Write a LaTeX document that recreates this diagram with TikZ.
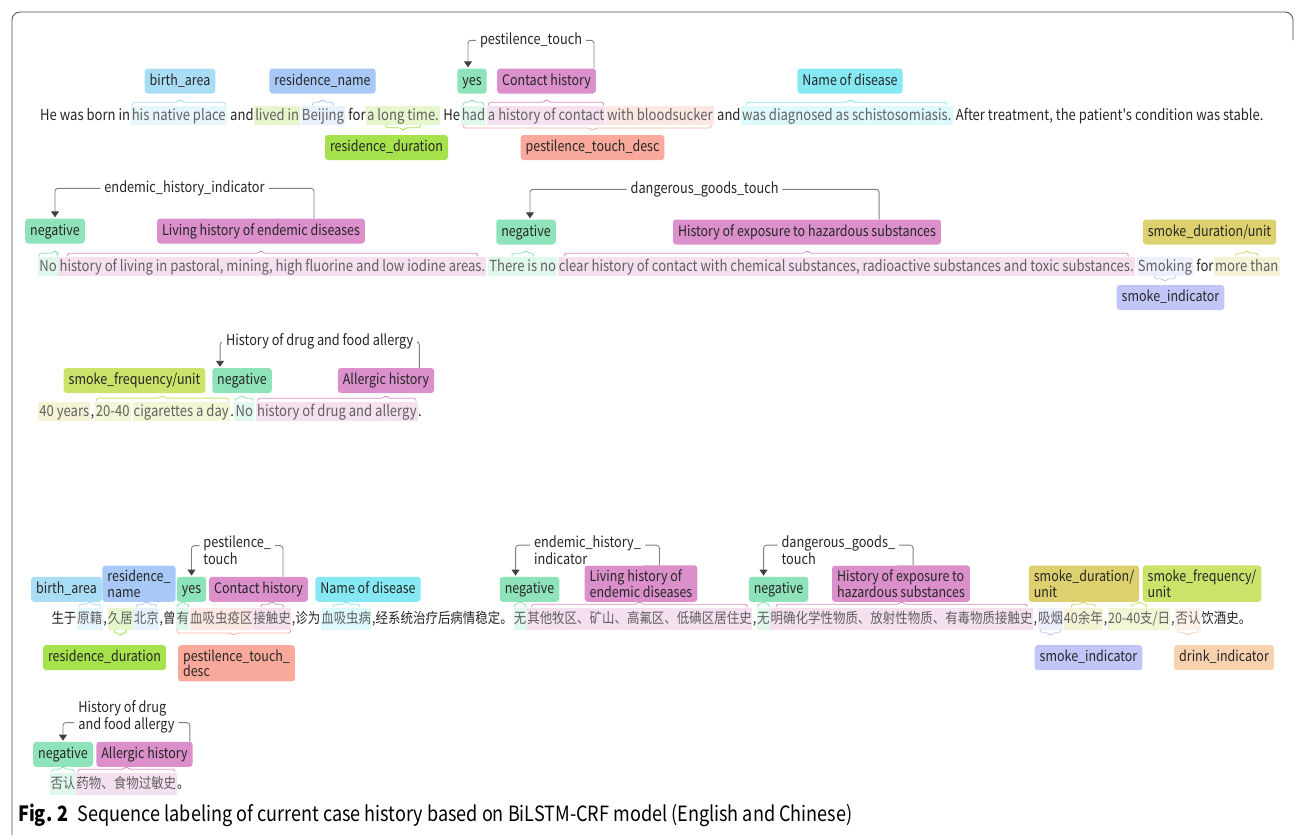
\documentclass[tikz,border=0pt]{standalone}
\usepackage{fontspec}
\setmainfont{Noto Sans CJK SC}[FakeStretch=0.86, Ligatures=TeXOff]
\usetikzlibrary{arrows.meta, positioning, fit}

\definecolor{cBirth}{HTML}{A9DDF5}
\definecolor{cRname}{HTML}{A8C8F8}
\definecolor{cYes}{HTML}{8FE3BA}
\definecolor{cCont}{HTML}{DB8FCB}
\definecolor{cDis}{HTML}{85E9F3}
\definecolor{cRdur}{HTML}{A6E24C}
\definecolor{cPdesc}{HTML}{F8A99B}
\definecolor{cSdur}{HTML}{DDD06E}
\definecolor{cSfreq}{HTML}{CBE26B}
\definecolor{cSmk}{HTML}{C2C5F8}
\definecolor{cDrk}{HTML}{F8D2AE}

\begin{document}
\begin{tikzpicture}[
    x=1pt, y=-1pt,
    every node/.style={font=\fontsize{14.5}{16}\selectfont},
    seg/.style={anchor=base west, inner xsep=0pt, inner ysep=1.5pt,
      text height=13pt, text depth=3pt, text=black!85,
      font=\fontsize{15.2}{17}\selectfont},
    hl/.style={seg, fill=#1!28, text=black!62, inner xsep=1.2pt},
    zh/.style={text height=14pt, text depth=5pt, inner xsep=0.3pt,
      font=\fontsize{14.5}{16}\selectfont},
    tagb/.style={fill=#1, rounded corners=3pt, inner xsep=5pt,
      inner ysep=4.5pt, text=black!85},
    tag/.style={tagb=#1, text height=12pt, text depth=4pt},
    tag2/.style={tagb=#1, align=left, font=\fontsize{14.5}{15.5}\selectfont},
    rel/.style={draw=black!50, line width=0.9pt, rounded corners=3pt,
      shorten >=1pt, -{Triangle[width=8pt, length=6pt, color=black!75]}},
    rlbl/.style={fill=white, inner xsep=4pt, inner ysep=1pt, text=black!85,
      font=\fontsize{14.8}{16}\selectfont},
    rlbl2/.style={rlbl, align=left, font=\fontsize{14.8}{17}\selectfont},
    brc/.style={line width=0.8pt, rounded corners=1.5pt},
    % braces: tick under the label / tick at the span centre
    bru/.style={brc, to path={([xshift=#1]\tikztostart.north west) -- ++(0pt,3pt)
      -- ([xshift=-3pt, yshift=3pt]\tikztotarget |- \tikztostart.north)
      -- ++(3pt,3pt) -- ++(3pt,-3pt)
      -- ([xshift=-#1, yshift=3pt]\tikztostart.north east) -- ++(0pt,-3pt)}},
    bruc/.style={brc, to path={([xshift=#1]\tikztostart.north west) -- ++(0pt,3pt)
      -- ([xshift=-3pt, yshift=3pt]\tikztostart.north)
      -- ++(3pt,3pt) -- ++(3pt,-3pt)
      -- ([xshift=-#1, yshift=3pt]\tikztostart.north east) -- ++(0pt,-3pt)}},
    brd/.style={brc, to path={([xshift=#1]\tikztostart.south west) -- ++(0pt,-3pt)
      -- ([xshift=-3pt, yshift=-3pt]\tikztotarget |- \tikztostart.south)
      -- ++(3pt,-3pt) -- ++(3pt,3pt)
      -- ([xshift=-#1, yshift=-3pt]\tikztostart.south east) -- ++(0pt,3pt)}},
    brdc/.style={brc, to path={([xshift=#1]\tikztostart.south west) -- ++(0pt,-3pt)
      -- ([xshift=-3pt, yshift=-3pt]\tikztostart.south)
      -- ++(3pt,-3pt) -- ++(3pt,3pt)
      -- ([xshift=-#1, yshift=-3pt]\tikztostart.south east) -- ++(0pt,3pt)}},
    frame/.style={draw=black!70, line width=0.8pt, rounded corners=8pt},
  ]
    \useasboundingbox (0,0) rectangle (1295,835);
    \draw[frame] (12,835) |- (1293,12) -- (1293,40);

    % ═══ English, line 1 ═══
    \node[seg] (a1) at (40,120) {He was born in\ };
    \node[hl=cBirth, base right=0pt of a1] (a2) {his native place};
    \node[seg, base right=0pt of a2] (a3) {\ and\ };
    \node[hl=cRdur, base right=0pt of a3] (a4) {lived in};
    \node[hl=cRname, base right=0pt of a4] (a5) {Beijing};
    \node[seg, base right=0pt of a5] (a6) {\ for\ };
    \node[hl=cRdur, base right=0pt of a6] (a7) {a long time.};
    \node[seg, base right=0pt of a7] (a8) {\ He\ };
    \node[hl=cYes, base right=0pt of a8] (a9) {had};
    \node[hl=cCont, base right=0pt of a9] (a10) {a history of contact};
    \node[hl=cPdesc, base right=0pt of a10] (a11) {with bloodsucker};
    \node[seg, base right=0pt of a11] (a12) {\ and\ };
    \node[hl=cDis, base right=0pt of a12] (a13) {was diagnosed as schistosomiasis.};
    \node[seg, base right=0pt of a13] (a14) {\ After treatment, the patient's condition was stable.};

    \node[tag=cBirth] (ba1) at (180,81) {birth\_area};
    \node[tag=cRname] (rn1) at (322.5,81) {residence\_name};
    \node[tag=cYes] (ys1) at (472,81) {yes};
    \node[tag=cCont] (ct1) at (546.5,81) {Contact history};
    \node[tag=cDis] (nd1) at (850,81) {Name of disease};
    \node[tag=cRdur] (rd1) at (386.5,147.5) {residence\_duration};
    \node[tag=cPdesc] (pd1) at (592.5,147.5) {pestilence\_touch\_desc};
    \node[fit=(a9)(a11), inner sep=0pt] (f1) {};

    \draw[bru=2pt, cBirth] (a2) to (ba1);
    \draw[bru=12pt, cRname] (a5) to (rn1);
    \draw[bru=3pt, cYes] (a9) to (ys1);
    \draw[bru=2pt, cCont] (a10) to (ct1);
    \draw[bru=6pt, cDis] (a13) to (nd1);
    \draw[brdc=20pt, cRdur] (a7) to (rd1);
    \draw[brd=3pt, cPdesc] (f1) to (pd1);
    \draw[rel] ([xshift=-2pt]ct1.north east) -- ++(0pt,28pt)
      -| node[rlbl, pos=0.25] {pestilence\_touch} ([xshift=-4pt]ys1.north);

    % ═══ English, line 2 ═══
    \node[hl=cYes] (b1) at (38,271) {No};
    \node[hl=cCont, base right=0pt of b1] (b2) {history of living in pastoral, mining, high fluorine and low iodine areas.};
    \node[seg, base right=0pt of b2] (b3) {\ };
    \node[hl=cYes, base right=0pt of b3] (b4) {There is no};
    \node[hl=cCont, base right=0pt of b4] (b5) {clear history of contact with chemical substances, radioactive substances and toxic substances.};
    \node[seg, base right=0pt of b5] (b6) {\ };
    \node[hl=cSmk, base right=0pt of b6] (b7) {Smoking};
    \node[seg, base right=0pt of b7] (b8) {\ for\ };
    \node[hl=cSdur, base right=0pt of b8] (b9) {more than};

    \node[tag=cYes] (n1) at (55,231) {negative};
    \node[tag=cCont] (lh1) at (261,231) {Living history of endemic diseases};
    \node[tag=cYes] (n2) at (526,232) {negative};
    \node[tag=cCont] (he1) at (807,232) {History of exposure to hazardous substances};
    \node[tag=cSdur] (sd1) at (1209.5,232) {smoke\_duration/unit};
    \node[tag=cSmk] (si1) at (1170.5,297.5) {smoke\_indicator};

    \draw[bru=1pt, cYes] (b1) to (n1);
    \draw[bru=9pt, cCont] (b2) to (lh1);
    \draw[bru=24pt, cYes] (b4) to (n2);
    \draw[bru=7pt, cCont] (b5) to (he1);
    \draw[bruc=22pt, cSdur] (b9) to (sd1);
    \draw[brdc=18pt, cSmk] (b7) to (si1);
    \draw[rel] ([xshift=-51pt]lh1.north east) -- ++(0pt,30pt)
      -| node[rlbl, pos=0.25] {endemic\_history\_indicator} (n1.north);
    \draw[rel] ([xshift=-62pt]he1.north east) -- ++(0pt,30pt)
      -| node[rlbl, pos=0.25] {dangerous\_goods\_touch} ([xshift=4pt]n2.north);

    % ═══ English, line 3 ═══
    \node[hl=cSdur] (c1) at (38,416) {40 years};
    \node[seg, base right=0pt of c1] (c2) {,\ };
    \node[hl=cSfreq, base right=0pt of c2] (c3) {20-40};
    \node[seg, base right=0pt of c3] (c4) {\ };
    \node[hl=cSfreq, base right=0pt of c4] (c5) {cigarettes a day};
    \node[seg, base right=0pt of c5] (c6) {.\ };
    \node[hl=cYes, base right=0pt of c6] (c7) {No};
    \node[seg, base right=0pt of c7] (c8) {\ };
    \node[hl=cCont, base right=0pt of c8] (c9) {history of drug and allergy};
    \node[seg, base right=0pt of c9] (c10) {.};

    \node[tag=cSfreq] (sf1) at (134.5,380.5) {smoke\_frequency/unit};
    \node[tag=cYes] (n3) at (242,380.5) {negative};
    \node[tag=cCont] (ah1) at (386,380.5) {Allergic history};
    \node[fit=(c3)(c5), inner sep=0pt] (f3) {};

    \draw[bruc=2pt, cSfreq] (f3) to (sf1);
    \draw[bru=1pt, cYes] (c7) to (n3);
    \draw[bru=2pt, cCont] (c9) to (ah1);
    \draw[rel] ([xshift=-15pt]ah1.north east) -- ++(0pt,26pt)
      -| node[rlbl, pos=0.25] {History of drug and food allergy} ([xshift=8pt]n3.north west);

    % ═══ Chinese, line 1 ═══
    \node[seg, zh] (d1) at (51,623) {生于};
    \node[hl=cBirth, zh, base right=0pt of d1] (d2) {原籍};
    \node[seg, zh, base right=0pt of d2] (d3) {,};
    \node[hl=cRdur, zh, base right=0pt of d3] (d4) {久居};
    \node[hl=cRname, zh, base right=0pt of d4] (d5) {北京};
    \node[seg, zh, base right=0pt of d5] (d6) {,曾};
    \node[hl=cYes, zh, base right=0pt of d6] (d7) {有};
    \node[hl=cPdesc, zh, base right=0pt of d7] (d8) {血吸虫疫区};
    \node[hl=cCont, zh, base right=0pt of d8] (d9) {接触史};
    \node[seg, zh, base right=0pt of d9] (d10) {,诊为};
    \node[hl=cDis, zh, base right=0pt of d10] (d11) {血吸虫病};
    \node[seg, zh, base right=0pt of d11] (d12) {,经系统治疗后病情稳定。};
    \node[hl=cYes, zh, base right=0pt of d12] (d13) {无};
    \node[hl=cCont, zh, base right=0pt of d13] (d14) {其他牧区、矿山、高氟区、低碘区居住史};
    \node[seg, zh, base right=0pt of d14] (d15) {,};
    \node[hl=cYes, zh, base right=0pt of d15] (d16) {无};
    \node[hl=cCont, zh, base right=0pt of d16] (d17) {明确化学性物质、放射性物质、有毒物质接触史};
    \node[seg, zh, base right=0pt of d17] (d18) {,};
    \node[hl=cSmk, zh, base right=0pt of d18] (d19) {吸烟};
    \node[hl=cSdur, zh, base right=0pt of d19] (d20) {40余年};
    \node[seg, zh, base right=0pt of d20] (d21) {,};
    \node[hl=cSfreq, zh, base right=0pt of d21] (d22) {20-40支/日};
    \node[seg, zh, base right=0pt of d22] (d23) {,};
    \node[hl=cDrk, zh, base right=0pt of d23] (d24) {否认};
    \node[seg, zh, base right=0pt of d24] (d25) {饮酒史。};

    \node[tag=cBirth, anchor=south] (ba4) at (66.5,602) {birth\_area};
    \node[tag2=cRname, anchor=south] (rn4) at (139,602) {residence\_\\name};
    \node[tag=cYes, anchor=south] (ys4) at (191.5,602) {yes};
    \node[tag=cCont, anchor=south] (ct4) at (258.5,602) {Contact history};
    \node[tag=cDis, anchor=south] (nd4) at (368,602) {Name of disease};
    \node[tag=cYes, anchor=south] (n4) at (529.5,602) {negative};
    \node[tag2=cCont, anchor=south] (lh4) at (641,602) {Living history of\\endemic diseases};
    \node[tag=cYes, anchor=south] (n5) at (778.5,602) {negative};
    \node[tag2=cCont, anchor=south] (he4) at (901,602) {History of exposure to\\hazardous substances};
    \node[tag2=cSdur, anchor=south] (sd4) at (1084,602) {smoke\_duration/\\unit};
    \node[tag2=cSfreq, anchor=south] (sf4) at (1202,602) {smoke\_frequency/\\unit};
    \node[tag=cRdur, anchor=north] (rd4) at (104.5,645) {residence\_duration};
    \node[tag2=cPdesc, anchor=north] (pd4) at (236.5,645) {pestilence\_touch\_\\desc};
    \node[tag=cSmk, anchor=north] (si4) at (1088.5,645) {smoke\_indicator};
    \node[tag=cDrk, anchor=north] (dk4) at (1224,645) {drink\_indicator};
    \node[fit=(d7)(d9), inner sep=0pt] (f4) {};

    \draw[bruc=2pt, cBirth] (d2) to (ba4);
    \draw[bruc=3pt, cRname] (d5) to (rn4);
    \draw[bruc=1pt, cYes] (d7) to (ys4);
    \draw[bruc=8pt, cCont] (d9) to (ct4);
    \draw[bruc=12pt, cDis] (d11) to (nd4);
    \draw[bruc=1pt, cYes] (d13) to (n4);
    \draw[bruc=5pt, cCont] (d14) to (lh4);
    \draw[bruc=1pt, cYes] (d16) to (n5);
    \draw[bruc=6pt, cCont] (d17) to (he4);
    \draw[bruc=8pt, cSdur] (d20) to (sd4);
    \draw[bruc=24pt, cSfreq] (d22) to (sf4);
    \draw[brdc=7pt, cRdur] (d4) to (rd4);
    \draw[brdc=1pt, cPdesc] (f4) to (pd4);
    \draw[brdc=3pt, cSmk] (d19) to (si4);
    \draw[brdc=3pt, cDrk] (d24) to (dk4);
    \draw[rel] ([xshift=-25pt]ct4.north east) -- ++(0pt,31pt)
      -| node[rlbl2, pos=0.25, yshift=-5pt] {pestilence\_\\touch} (ys4.north);
    \draw[rel] ([xshift=-38pt]lh4.north east) -- ++(0pt,20pt)
      -| node[rlbl2, pos=0.25, yshift=-5pt] {endemic\_history\_\\indicator} ([xshift=16pt]n4.north west);
    \draw[rel] ([xshift=-57pt]he4.north east) -- ++(0pt,20pt)
      -| node[rlbl2, pos=0.25, yshift=-5pt] {dangerous\_goods\_\\touch} ([xshift=15pt]n5.north west);

    % ═══ Chinese, line 2 ═══
    \node[hl=cYes, zh] (e1) at (50,788) {否认};
    \node[hl=cCont, zh, base right=0pt of e1] (e2) {药物、食物过敏史};
    \node[seg, zh, base right=0pt of e2] (e3) {。};

    \node[tag=cYes, anchor=south] (n6) at (63,767) {negative};
    \node[tag=cCont, anchor=south] (ah6) at (144.5,767) {Allergic history};

    \draw[bruc=2pt, cYes] (e1) to (n6);
    \draw[bruc=2pt, cCont] (e2) to (ah6);
    \draw[rel] ([xshift=-3pt]ah6.north east) -- ++(0pt,19pt)
      -| node[rlbl2, pos=0.25, yshift=6pt] {History of drug\\and food allergy} (n6.north);

    % caption
    \node[anchor=base west, inner sep=0pt, font=\fontsize{21}{24}\selectfont] (cap) at (18,821)
      {\textbf{Fig. 2}\hspace{9pt}Sequence labeling of current case history based on BiLSTM-CRF model (English and Chinese)};
  \end{tikzpicture}
\end{document}
